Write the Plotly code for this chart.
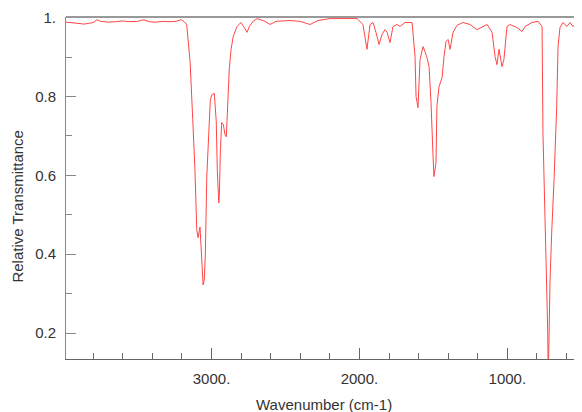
import plotly.graph_objects as go

# Wavenumber (cm-1) and relative transmittance
wavenumber = [
    3984, 3940, 3900, 3860, 3800, 3775, 3750, 3700, 3650, 3600, 3550, 3500,
    3460, 3420, 3380, 3330, 3280, 3240, 3205, 3185, 3168,
    3145, 3127, 3112, 3100, 3091, 3078, 3066, 3057, 3049, 3042, 3032, 3019,
    3008, 2997, 2981, 2968, 2961, 2951, 2947, 2940, 2931, 2920, 2909, 2900,
    2888, 2880, 2868, 2853, 2828, 2801, 2778, 2760, 2744, 2719, 2692, 2638,
    2604, 2564, 2469, 2402, 2334, 2280, 2199, 2097,
    2016, 1976, 1949, 1928, 1908, 1888, 1867, 1847, 1827, 1813, 1793, 1773,
    1746, 1725, 1692, 1644, 1638, 1624, 1617, 1604, 1590, 1570, 1557, 1543,
    1529, 1516, 1502, 1496, 1482, 1476, 1462, 1441, 1428, 1414, 1401, 1387,
    1367, 1340, 1300, 1252, 1205, 1137, 1103, 1083, 1070, 1056, 1036, 1023,
    1002, 982, 934, 900, 880, 833, 792, 765, 759, 745, 734, 727, 723, 718,
    711, 700, 691, 684, 666, 657, 644, 624, 597, 576, 556, 529, 509, 495,
]
transmittance = [
    0.989, 0.987, 0.985, 0.984, 0.988, 0.995, 0.991, 0.989, 0.990, 0.992, 0.990, 0.991,
    0.995, 0.990, 0.989, 0.991, 0.990, 0.991, 0.995, 0.990, 0.983,
    0.889, 0.742, 0.614, 0.462, 0.442, 0.469, 0.398, 0.322, 0.335, 0.398, 0.597, 0.691,
    0.792, 0.805, 0.808, 0.736, 0.614, 0.530, 0.551, 0.665, 0.734, 0.729, 0.703, 0.698,
    0.792, 0.869, 0.920, 0.953, 0.978, 0.988, 0.975, 0.963, 0.978, 0.991, 0.998, 0.991,
    0.983, 0.991, 0.993, 0.991, 0.983, 0.993, 0.998, 0.998,
    0.998, 0.983, 0.920, 0.983, 0.988, 0.963, 0.932, 0.958, 0.970, 0.963, 0.937, 0.978,
    0.983, 0.978, 0.988, 0.988, 0.963, 0.902, 0.800, 0.772, 0.894, 0.927, 0.914, 0.899,
    0.876, 0.785, 0.647, 0.597, 0.632, 0.775, 0.825, 0.848, 0.902, 0.940, 0.945, 0.920,
    0.963, 0.981, 0.988, 0.983, 0.970, 0.983, 0.963, 0.902, 0.881, 0.920, 0.876, 0.894,
    0.978, 0.983, 0.975, 0.965, 0.978, 0.988, 0.991, 0.978, 0.708, 0.492, 0.335, 0.208, 0.080, 0.200,
    0.335, 0.454, 0.560, 0.589, 0.775, 0.927, 0.975, 0.988, 0.978, 0.988, 0.978, 0.991, 0.970, 0.955,
]

y_tick_vals = [0.2, 0.4, 0.6, 0.8, 1.0]
y_tick_text = ["0.2", "0.4", "0.6", "0.8", "1."]
y_minor_vals = [0.3, 0.5, 0.7, 0.9]

font_family = "Liberation Sans, Arial, sans-serif"

fig = go.Figure()
fig.add_trace(go.Scatter(
    x=wavenumber, y=transmittance, mode="lines",
    line=dict(color="rgb(255,70,70)", width=1),
    hoverinfo="skip", showlegend=False,
))

# the page body adds an 8px offset at top-left, so the figure is 8px smaller on each axis
fig.update_layout(
    width=574, height=404,
    margin=dict(l=58, r=0, t=9, b=53),
    paper_bgcolor="white", plot_bgcolor="white",
    font=dict(family=font_family, size=15, color="#333"),
    xaxis=dict(
        range=[3984, 495], showgrid=False, zeroline=False,
        showline=True, linecolor="#666", linewidth=1, mirror=False,
        ticks="inside", ticklen=11, tickwidth=1, tickcolor="#666",
        tick0=0, dtick=1000, ticksuffix=".", ticklabelstandoff=6,
        minor=dict(ticks="inside", ticklen=6, tick0=0, dtick=200,
                   tickcolor="#666", tickwidth=1),
    ),
    yaxis=dict(
        range=[0.134, 1.002], showgrid=False, zeroline=False,
        showline=True, linecolor="#888", linewidth=1,
        ticks="inside", ticklen=10, tickwidth=1, tickcolor="#888",
        tickmode="array", tickvals=y_tick_vals, ticktext=y_tick_text,
        ticklabelstandoff=6,
        minor=dict(ticks="inside", ticklen=6, tickmode="array",
                   tickvals=y_minor_vals, tickcolor="#888", tickwidth=1),
    ),
    shapes=[dict(type="line", xref="paper", yref="paper", x0=0, x1=1, y0=1, y1=1,
                 line=dict(color="#999", width=2))],
    annotations=[
        dict(text="Wavenumber (cm-1)", xref="paper", yref="paper", x=0.5, y=0,
             xanchor="center", yanchor="middle", yshift=-45, showarrow=False,
             font=dict(family=font_family, size=15, color="#333")),
        dict(text="Relative Transmittance", xref="paper", yref="paper", x=0, y=0.4456,
             xanchor="center", yanchor="middle", xshift=-48, textangle=-90,
             showarrow=False,
             font=dict(family=font_family, size=15, color="#333")),
    ],
)

fig.write_html("out.html")
